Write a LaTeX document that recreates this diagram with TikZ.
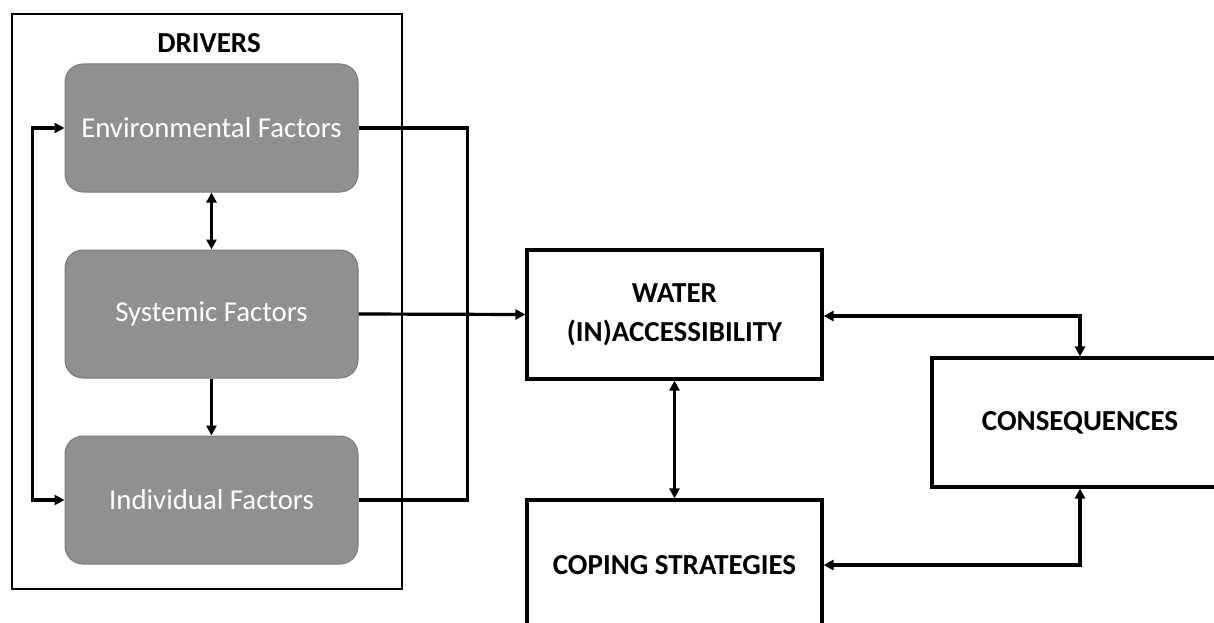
\documentclass[tikz,border=0pt]{standalone}
\usepackage{fontspec}
\setmainfont{Carlito}
\usetikzlibrary{arrows.meta}
\definecolor{boxgray}{HTML}{909090}
\definecolor{boxedge}{HTML}{7A7A7A}
\tikzset{
  factor/.style={draw=boxedge, line width=1pt, fill=boxgray, rounded corners=18pt,
    minimum width=293pt, minimum height=128pt, inner sep=0pt, text=white,
    font=\fontsize{28.8}{34}\selectfont},
  mainbox/.style={draw=black, line width=3.2pt, inner sep=0pt,
    font=\fontsize{29}{39}\selectfont\bfseries, align=center},
  conn/.style={draw=black, line width=3.2pt},
  tip/.style={-{Triangle[length=10pt,width=10pt]}},
  tips/.style={{Triangle[length=10pt,width=10pt]}-{Triangle[length=10pt,width=10pt]}}
}
\begin{document}
\begin{tikzpicture}[x=1pt,y=-1pt]
\useasboundingbox (0,0) rectangle (1214,623);
\clip (0,0) rectangle (1214,623);
% outer drivers box
\node[draw=black, line width=2.8pt, minimum width=390pt, minimum height=575pt, inner sep=0pt] (drv) at (207,301.5) {};
\node[font=\fontsize{29}{34}\selectfont\bfseries] (drvlabel) at (209,43) {DRIVERS};
% factor boxes
\node[factor] (env) at (211.5,128) {Environmental Factors};
\node[factor] (sys) at (211.5,314) {Systemic Factors};
\node[factor] (ind) at (211.5,500) {Individual Factors};
% main boxes
\node[mainbox, minimum width=295pt, minimum height=129pt] (water) at (674.5,314.5) {WATER\\(IN)ACCESSIBILITY};
\node[mainbox, minimum width=296pt, minimum height=129pt] (cons) at (1080,422.5) {CONSEQUENCES};
\node[mainbox, minimum width=295pt, minimum height=130pt] (cope) at (674.5,565) {COPING STRATEGIES};
% connectors inside drivers
\draw[conn, tips] (env.south) -- (sys.north);
\draw[conn, tip] (sys.south) -- (ind.north);
\draw[conn, tips] (env.west) -- ++(-32,0) |- (ind.west);
\draw[conn] (env.east) -- ++(109,0) |- (ind.east);
\draw[conn, tip] (sys.east) -- (water.west);
% connectors among main boxes
\draw[conn, tips] (water.south) -- (cope.north);
\draw[conn, tips] ([yshift=-1.5pt]water.east) -| (cons.north);
\draw[conn, tips] (cope.east) -| (cons.south);
\end{tikzpicture}
\end{document}
